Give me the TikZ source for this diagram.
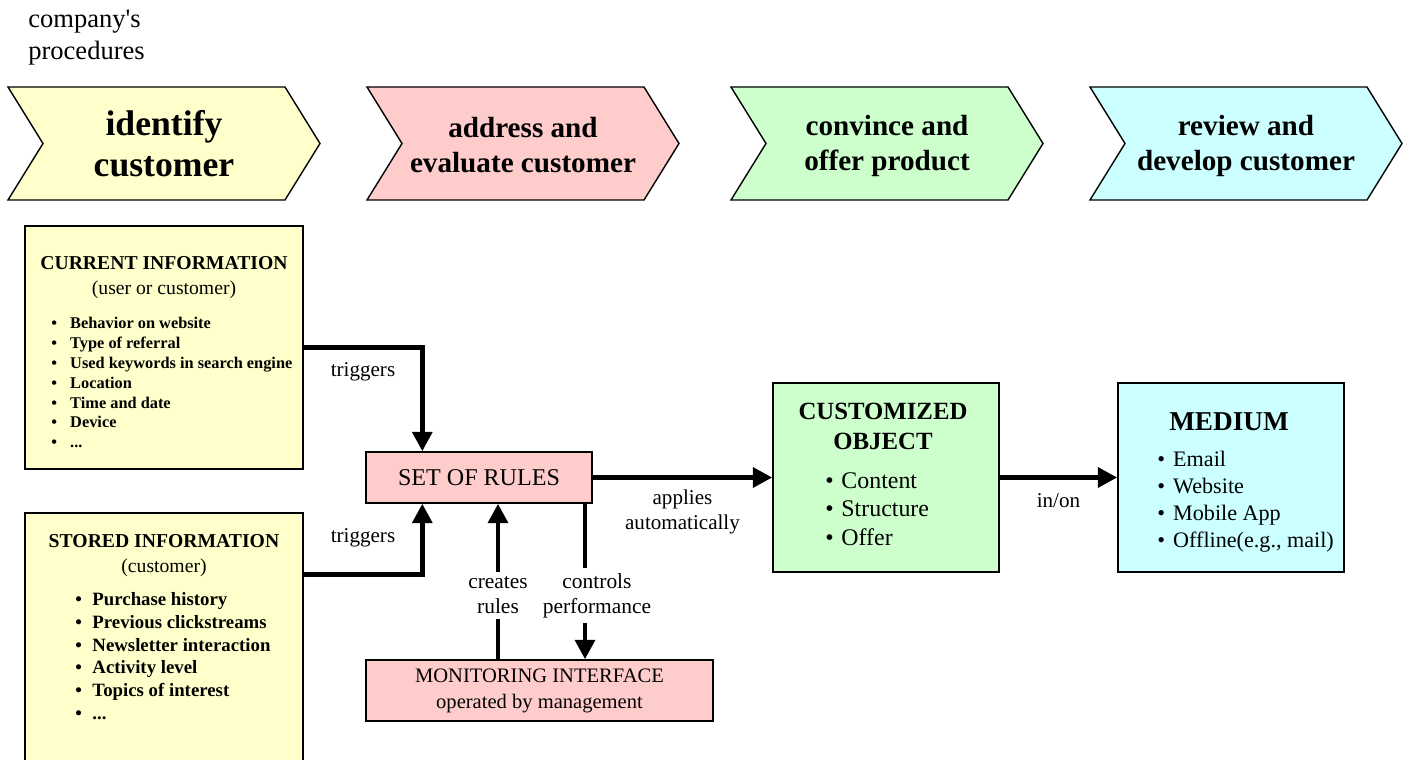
\documentclass[tikz,border=0pt]{standalone}
\usepackage{fontspec}
\setmainfont{Liberation Serif}
\usetikzlibrary{arrows.meta,fit,positioning}
\definecolor{procyel}{HTML}{FFFFCC}
\definecolor{procred}{HTML}{FFCCCC}
\definecolor{procgrn}{HTML}{CCFFCC}
\definecolor{proccyn}{HTML}{CCFFFF}
\newcommand{\fsz}[2]{\fontsize{#1}{#2}\selectfont}

\begin{document}
\begin{tikzpicture}[x=0.02cm, y=-0.02cm]
  \tikzset{
    stagebox/.style={draw, line width=0.8pt, inner sep=0pt},
    chev/.style={draw, line width=0.8pt, line join=miter},
    txt/.style={inner sep=0pt},
    flow/.style={line width=2.8pt, -{Triangle[length=11pt,width=11pt]}},
    lbl/.style={fill=white, inner sep=3pt, align=center, font=\fsz{12.2}{14.2}},
    tlbl/.style={inner sep=0pt, align=center, font=\fsz{12}{14.2}},
  }
  \useasboundingbox (0,0) rectangle (1407,760);
  \clip (0,0) rectangle (1407,760);

  \node[txt, anchor=north west, align=left, font=\fsz{15.1}{18.1}] (proc) at (28,10)
    {company\textquotesingle s\\procedures};

  % the four stages
  \foreach \x/\col/\n/\fnt/\dy/\txt in {
      8/procyel/1/{\fsz{20.3}{23.2}\bfseries}/144/{identify\\customer},
      367/procred/2/{\fsz{16.6}{19.8}\bfseries}/145/{address and\\evaluate customer},
      731/procgrn/3/{\fsz{16.6}{19.8}\bfseries}/146/{convince and\\offer product},
      1090/proccyn/4/{\fsz{16.6}{19.8}\bfseries}/146/{review and\\develop customer}} {
    \draw[chev, fill=\col] (\x,87) -- ++(277,0) -- ++(35,56.5) -- ++(-35,56.5)
      -- ++(-277,0) -- ++(35,-56.5) -- cycle;
    \node[txt, align=center, font=\fnt] (ch\n) at (\x+156,\dy) {\txt};
  }

  % boxes
  \node[stagebox, fill=procyel, fit={(25,226) (303,469)}] (cur) {};
  \node[stagebox, fill=procyel, fit={(25,513) (303,790)}] (sto) {};
  \node[stagebox, fill=procred, minimum width=4.52cm, minimum height=1.02cm,
    font=\fsz{13.7}{16}] (rules) at (479,477.5) {SET OF RULES};
  \node[stagebox, fill=procred, minimum width=6.94cm, minimum height=1.22cm, align=center,
    font=\fsz{11.7}{14.7}] (mon) at (539.5,690.5) {MONITORING INTERFACE\\operated by management};
  \node[stagebox, fill=procgrn, fit={(773,383) (999,572)}] (cust) {};
  \node[stagebox, fill=proccyn, fit={(1118,383) (1344,572)}] (med) {};

  \node[txt, anchor=north, align=center, font=\fsz{11.2}{14.2}] (curhead) at (164,256)
    {\textbf{CURRENT INFORMATION}\\(user or customer)};
  \node[txt, anchor=north west, align=left, font=\fsz{9.3}{11.3}\bfseries] (curlist) at (51,317)
    {\textbullet\hspace{7.5pt}Behavior on website\\
     \textbullet\hspace{7.5pt}Type of referral\\
     \textbullet\hspace{7.5pt}Used keywords in search engine\\
     \textbullet\hspace{7.5pt}Location\\
     \textbullet\hspace{7.5pt}Time and date\\
     \textbullet\hspace{7.5pt}Device\\
     \textbullet\hspace{7.5pt}...};

  \node[txt, anchor=north, align=center, font=\fsz{11.2}{14.2}] (stohead) at (164,534)
    {\textbf{STORED INFORMATION}\\(customer)};
  \node[txt, anchor=north west, align=left, font=\fsz{10.7}{13}\bfseries] (stolist) at (75,592)
    {\textbullet\hspace{6pt}Purchase history\\
     \textbullet\hspace{6pt}Previous clickstreams\\
     \textbullet\hspace{6pt}Newsletter interaction\\
     \textbullet\hspace{6pt}Activity level\\
     \textbullet\hspace{6pt}Topics of interest\\
     \textbullet\hspace{6pt}...};

  \node[txt, anchor=north, align=center, font=\fsz{14.1}{17}\bfseries] (custhead) at (883,403)
    {CUSTOMIZED\\OBJECT};
  \node[txt, anchor=north west, align=left, font=\fsz{13.6}{16.4}] (custlist) at (825,472)
    {\textbullet\hspace{4.4pt}Content\\
     \textbullet\hspace{4.4pt}Structure\\
     \textbullet\hspace{4.4pt}Offer};

  \node[txt, anchor=north, font=\fsz{15.5}{18}\bfseries] (medhead) at (1229,412) {MEDIUM};
  \node[txt, anchor=north west, align=left, font=\fsz{12.6}{15.3}] (medlist) at (1157,451)
    {\textbullet\hspace{4.6pt}Email\\
     \textbullet\hspace{4.6pt}Website\\
     \textbullet\hspace{4.6pt}Mobile App\\
     \textbullet\hspace{4.6pt}Offline(e.g., mail)};

  % connectors
  \draw[flow] (cur.east) -| node[tlbl, pos=0.25, below=0.26cm] (trig1) {triggers}
    ([xshift=1.14cm]rules.north west);
  \draw[flow] ([yshift=-1.24cm]sto.north east) -| node[tlbl, pos=0.25, above=0.5cm] (trig2) {triggers}
    ([xshift=1.14cm]rules.south west);

  \coordinate (crx) at (498,0);
  \coordinate (cpx) at (585,0);
  \draw[flow] (mon.north -| crx) -- node[lbl, pos=0.41] (crlbl) {creates\\rules} (rules.south -| crx);
  \draw[flow] (rules.south -| cpx) -- node[lbl, pos=0.59, xshift=0.24cm] (cplbl) {controls\\performance}
    (mon.north -| cpx);

  \draw[flow] (rules.east) -- node[tlbl, below=0.2cm] (applbl) {applies\\automatically} (cust.west);
  \draw[flow] (cust.east) -- node[tlbl, below=0.28cm] (inlbl) {in/on} (med.west);
\end{tikzpicture}
\end{document}
